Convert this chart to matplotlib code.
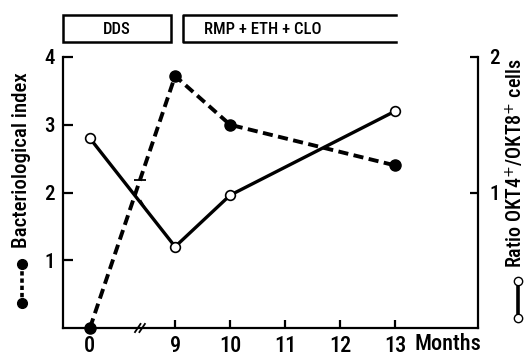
import matplotlib
matplotlib.use("Agg")
import matplotlib.pyplot as plt
from matplotlib import font_manager as fm
import numpy as np
from matplotlib.lines import Line2D
from matplotlib.patches import Rectangle

installed = {f.name for f in fm.fontManager.ttflist}
prefs = ['Roboto Condensed', 'Archivo Narrow', 'Liberation Sans Narrow', 'DejaVu Sans']
chosen = [p for p in prefs if p in installed] or ['DejaVu Sans']
plt.rcParams['font.family'] = [chosen[0], 'DejaVu Sans']
WEIGHT = 'medium'

# ---- data ----
months = [0, 9, 10, 13]
bact_index = [0.0, 3.72, 3.0, 2.4]          # left axis
ratio_okt = [1.4, 0.6, 0.98, 1.6]            # right axis
x_tick_labels = ['0', '9', '10', '11', '12', '13']
x_tick_months = [0, 9, 10, 11, 12, 13]
left_ticks = [1, 2, 3, 4]
right_ticks = [1, 2]
treatments = ['DDS', 'RMP + ETH + CLO']

W, H = 528, 356
fig = plt.figure(figsize=(W / 100, H / 100), dpi=100)
fig.patch.set_facecolor('white')

def fx(x):
    return x / W

def fy(y):
    return 1 - y / H

L, R, T, B = 63, 478, 57, 328
ax = fig.add_axes([fx(L), fy(B), fx(R) - fx(L), fy(T) - fy(B)])

ZERO_POS = 7.45
def pos(m):
    return ZERO_POS if m == 0 else m

xs = [pos(m) for m in months]
ax.set_xlim(6.96, 14.51)
ax.set_ylim(0, 4)
ax2 = ax.twinx()
ax2.set_ylim(0, 2)

ax.plot(xs, bact_index, color='black', lw=2.8, ls=(0, (2.6, 1.4)),
        marker='o', ms=8, mfc='black', mec='black', clip_on=False, zorder=5)
ax2.plot(xs, ratio_okt, color='black', lw=2.4, ls='-',
         marker='o', ms=7, mfc='white', mec='black', mew=1.2, clip_on=False, zorder=6)

BRK = 8.36
yb = np.interp(BRK, xs[:2], bact_index[:2])
ax.plot([BRK], [yb], marker='_', ms=9, mew=1.3, color='black', zorder=7)
yr = np.interp(BRK + 0.05, xs[:2], ratio_okt[:2])
ax2.plot([BRK + 0.05], [yr], marker=(2, 0, 30), ms=9, mew=1.3, color='black', zorder=7)
for dx in (-0.04, 0.04):
    ax.plot([BRK + dx - 0.05, BRK + dx + 0.05], [-0.06, 0.06], color='black',
            lw=1.3, clip_on=False, zorder=8)

for a in (ax, ax2):
    a.spines['top'].set_visible(False)
    for s in a.spines.values():
        s.set_linewidth(1.6)
ax.spines['right'].set_visible(False)
ax2.spines['left'].set_visible(False)
ax2.spines['bottom'].set_visible(False)

FS = 15
FSX = 16
ax.set_yticks(left_ticks)
ax.set_yticklabels([str(t) for t in left_ticks], fontsize=FS, fontweight=WEIGHT)
ax.tick_params(axis='y', direction='in', length=7, width=1.6, pad=6)
ax.set_xticks([pos(m) for m in x_tick_months])
ax.set_xticklabels(x_tick_labels, fontsize=FSX, fontweight=WEIGHT)
ax.tick_params(axis='x', direction='in', length=6, width=1.6, pad=5)
ax.xaxis.get_major_ticks()[0].tick1line.set_visible(False)
ax2.set_yticks(right_ticks)
ax2.set_yticklabels([str(t) for t in right_ticks], fontsize=FS, fontweight=WEIGHT)
ax2.tick_params(axis='y', direction='in', length=6, width=1.6, pad=8)

fig.text(fx(415), fy(344), 'Months', fontsize=FSX, fontweight=WEIGHT,
         ha='left', va='center')

fig.text(fx(22), fy(160), 'Bacteriological index', fontsize=15, fontweight=WEIGHT,
         rotation=90, ha='center', va='center')
kx = fx(22)
fig.add_artist(Line2D([kx, kx], [fy(264), fy(303)], color='black', lw=2.6,
                      ls=(0, (1.2, 0.8)), marker='o', markevery=[0, 1], ms=7,
                      transform=fig.transFigure))
fig.text(fx(515), fy(163), 'Ratio OKT4$^{+}$/OKT8$^{+}$ cells', fontsize=14.5,
         fontweight=WEIGHT, rotation=90, ha='center', va='center')
rx = fx(518)
fig.add_artist(Line2D([rx, rx], [fy(281), fy(318)], color='black', lw=2.6,
                      marker='o', ms=6, mfc='white', mec='black', mew=1.0,
                      transform=fig.transFigure))

fig.add_artist(Rectangle((fx(63), fy(42)), fx(171) - fx(63), fy(15) - fy(42),
                         fill=False, lw=1.8, ec='black', transform=fig.transFigure))
fig.text(fx(117), fy(29), treatments[0], fontsize=12, fontweight=WEIGHT,
         ha='center', va='center')
fig.add_artist(Line2D([fx(396), fx(183), fx(183), fx(396)],
                      [fy(15), fy(15), fy(42), fy(42)], color='black', lw=1.8,
                      transform=fig.transFigure))
fig.text(fx(263), fy(29), treatments[1], fontsize=12, fontweight=WEIGHT,
         ha='center', va='center')

fig.savefig('out.png', dpi=100, facecolor='white')
